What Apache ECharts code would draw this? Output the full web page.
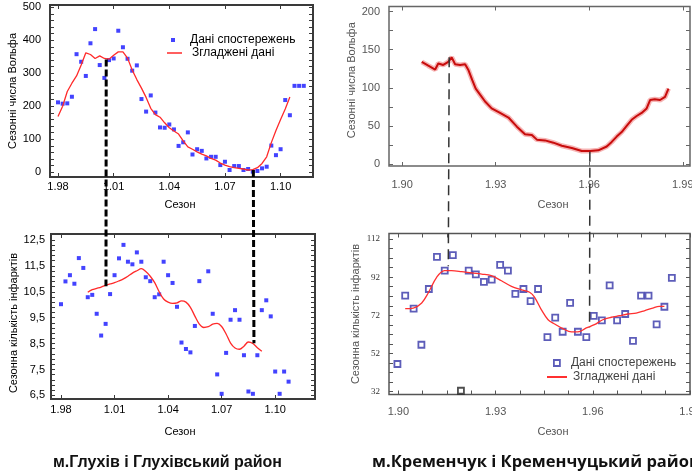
<!DOCTYPE html>
<html>
<head>
<meta charset="utf-8">
<script src="https://cdn.jsdelivr.net/npm/echarts@6/dist/echarts.min.js"></script>
<style>
html, body { margin: 0; padding: 0; background: #fff; }
#chart { width: 692px; height: 474px; }
</style>
</head>
<body>
<div id="chart"></div>
<script>
// м.Глухів: поквартальні дані, перше значення - 1998 рік
var gluStart = 1998;
var gluWolf = [212, 208, 209, 229, 358, 335, 292, 391, 434, 325, 286, 340, 345, 429, 379, 344,
	308, 324, 222, 184, 233, 181, 136, 135, 145, 130, 80, 91, 121, 54, 70, 65,
	42, 47, 47, 22, 32, 7, 19, 19, 7, 10, 2, 4, 12, 17, 81, 52, 70, 219, 173, 262, 262, 262];
var gluWolfSmooth = [169, 200, 245, 270, 292, 325, 362, 357, 345, 353, 345, 343, 355, 365, 365, 346,
	310, 281, 255, 227, 194, 175, 167, 150, 135, 125, 116, 95, 77, 70, 62, 55,
	50, 42, 37, 28, 22, 17, 14, 12, 10, 7, 8, 14, 27, 47, 90, 127, 160, 192, 228];
var gluInf = [10.02, 10.9, 11.14, 10.81, 11.8, 11.42, 10.29, 10.38, 9.65, 8.81, 9.26, 10.41,
	11.14, 11.79, 12.31, 11.66, 11.56, 12.02, 11.66, 11.06, 10.91, 10.29, 10.4, 11.66,
	11.14, 10.84, 9.92, 8.54, 8.29, 8.16, 9.18, 10.91, null, 11.29, 9.65, 7.31,
	6.56, 8.14, 9.42, 9.79, 9.42, 8.05, 6.65, 6.56, 8.05, 9.79, 10.17, 9.55, 7.42, 6.56, 7.42, 7.03];
var gluInfSmoothStart = 1999.5;
var gluInfSmooth = [10.48, 10.58, 10.63, 10.68, 10.75, 10.8, 10.85, 10.92, 11.0, 11.1, 11.22, 11.31,
	11.39, 11.28, 11.1, 10.85, 10.5, 10.22, 10.1, 10.05, 10.07, 10.15, 10.1, 9.9,
	9.56, 9.25, 9.12, 9.15, 9.25, 9.28, 9.16, 8.87, 8.52, 8.33, 8.28, 8.4, 8.56, 8.5, 8.34, 8.2];
var gluYears = [1998, 2001, 2004, 2007, 2010];
var gluWolfLabels = [0, 100, 200, 300, 400, 500];
var gluInfLabels = [6.5, 7.5, 8.5, 9.5, 10.5, 11.5, 12.5];

// м.Кременчук: [рік, значення]
var kremWolf = [[1990.63, 134], [1990.84, 129], [1991.06, 124], [1991.16, 132], [1991.32, 130], [1991.48, 134],
	[1991.59, 140], [1991.7, 131], [1991.86, 130], [1992.02, 131], [1992.13, 123], [1992.25, 110],
	[1992.36, 99], [1992.5, 91], [1992.66, 82], [1992.87, 73], [1993.14, 67], [1993.41, 61],
	[1993.68, 49], [1993.94, 39], [1994.16, 38], [1994.32, 32], [1994.58, 31], [1994.85, 28],
	[1995.12, 24], [1995.44, 21], [1995.76, 17], [1996.03, 17], [1996.29, 18], [1996.56, 23],
	[1996.72, 29], [1996.88, 36], [1997.04, 42], [1997.2, 50], [1997.36, 58], [1997.52, 63],
	[1997.68, 67], [1997.84, 73], [1997.95, 84], [1998.1, 85], [1998.27, 84], [1998.43, 88], [1998.54, 99]];
var kremInf = [[1989.97, 46.5], [1990.21, 82.3], [1990.47, 75.5], [1990.71, 56.6], [1990.94, 85.8], [1991.19, 102.6],
	[1991.43, 95.4], [1991.68, 103.6], [1991.93, 32.5], [1992.17, 95.4], [1992.39, 93.5], [1992.64, 89.5],
	[1992.88, 90.7], [1993.14, 98.4], [1993.38, 95.4], [1993.61, 83.3], [1993.86, 85.8], [1994.08, 79.4],
	[1994.31, 85.8], [1994.6, 60.6], [1994.84, 70.8], [1995.07, 63.4], [1995.3, 78.5], [1995.54, 63.4],
	[1995.8, 60.6], [1996.03, 71.7], [1996.28, 69.4], [1996.52, 87.7], [1996.75, 69.4], [1997.0, 72.7],
	[1997.24, 58.6], [1997.49, 82.3], [1997.72, 82.3], [1997.97, 67.3], [1998.21, 76.5], [1998.44, 91.6]];
var kremInfDark = [8];
var kremInfSmooth = [[1990.21, 75.5], [1990.46, 75.8], [1990.72, 78.5], [1990.92, 83.7], [1991.18, 91.9], [1991.42, 95.4],
	[1991.64, 95.4], [1991.95, 94.9], [1992.26, 94.2], [1992.57, 93.6], [1992.87, 92.8], [1993.18, 90.1],
	[1993.49, 87.2], [1993.8, 85.4], [1994.05, 84.1], [1994.2, 81.5], [1994.41, 75], [1994.62, 69.7],
	[1994.82, 67.5], [1995.08, 65], [1995.34, 63.3], [1995.54, 63.3], [1995.8, 65.4], [1996.05, 67.1],
	[1996.31, 69.7], [1996.57, 71], [1996.82, 71.8], [1997.08, 72.7], [1997.34, 73.2], [1997.59, 74.4],
	[1997.85, 75.8], [1998.05, 76.7], [1998.21, 76.7]];
var kremYears = [1990, 1993, 1996, 1999];
var kremWolfLabels = [0, 50, 100, 150, 200];
var kremInfLabels = [32, 52, 72, 92, 112];

// пунктирні лінії між панелями: [рік вгорі, значення вгорі, рік внизу, значення внизу]
var gluLinks = [[2000.6, 342, 2000.52, 10.71], [2008.53, 7, 2008.81, 8.51]];
var kremLinks = [[1991.51, 140, 1991.54, 97.7], [1996.02, 16, 1995.9, 65.4]];

var obsName = 'Дані спостережень';
var smoothName = 'Згладжені дані';

function quarters(start, values) {
	var out = [];
	for (var i = 0; i < values.length; i++) {
		if (values[i] !== null) out.push([start + i * 0.25, values[i]]);
	}
	return out;
}
function steps(from, to, step) {
	var out = [];
	for (var v = from; v <= to + 1e-9; v += step) out.push(+v.toFixed(2));
	return out;
}
function yearLabel(v) {
	return '1.' + String(Math.round(v)).slice(2);
}

var sans = 'Liberation Sans, Arial, sans-serif';

// панелі: сітка, межі осей, підписи
var panels = [{
	grid: { left: 50, top: 5, width: 263, height: 172 },
	x: [1997.569, 2011.747], y: [-14.2, 507],
	xLabels: gluYears, xTicks: gluYears, xMargin: 4,
	yLabels: gluWolfLabels, yTicks: steps(0, 500, 20), yMargin: 9,
	yFormat: null, frame: '#3a3a3a', frameW: 2, color: '#000', yFont: { fontSize: 11, fontFamily: sans },
	yName: 'Сезонні числа Вольфа', yNameGap: 31, yNamePad: [0, 0, 0, 0],
	xNameGap: 22, xNamePad: [0, 3, 0, 0]
}, {
	grid: { left: 51, top: 234, width: 264, height: 165 },
	x: [1997.44, 2012.23], y: [6.36, 12.73],
	xLabels: gluYears, xTicks: gluYears, xMargin: 5,
	yLabels: gluInfLabels, yTicks: steps(6.5, 12.5, 0.2), yMargin: 6,
	yFormat: function(v) { return v.toFixed(1).replace('.', ','); },
	frame: '#3a3a3a', frameW: 2, color: '#000', yFont: { fontSize: 11, fontFamily: sans },
	yName: 'Сезонна кількість інфарктів', yNameGap: 28, yNamePad: [0, 13, 0, 0],
	xNameGap: 27, xNamePad: [0, 6, 0, 0]
}, {
	grid: { left: 389, top: 6.5, width: 301, height: 159.5 },
	x: [1989.58, 1999.23], y: [-2.6, 206.7],
	xLabels: kremYears, xTicks: kremYears, xMargin: 13,
	yLabels: kremWolfLabels, yTicks: steps(0, 200, 25), yMargin: 9,
	yFormat: null, frame: '#666', frameW: 1.5, color: '#555', yFont: { fontSize: 11, fontFamily: sans },
	yName: 'Сезонні числа Вольфа', yNameGap: 30, yNamePad: [0, 0, 0, 12],
	xNameGap: 33, xNamePad: [0, 0, 0, 27]
}, {
	grid: { left: 389, top: 233.5, width: 301, height: 161 },
	x: [1989.71, 1999.0], y: [30.53, 114.88],
	xLabels: kremYears, xTicks: steps(1990, 1999, 0.75), xMargin: 12,
	yLabels: kremInfLabels, yTicks: steps(32, 112, 5), yMargin: 9,
	yFormat: null, frame: '#555', frameW: 1.5, color: '#555',
	yFont: { fontSize: 9, fontFamily: 'Liberation Serif, serif', color: '#333' },
	yName: 'Сезонна кількість інфарктів', yNameGap: 28, yNamePad: [0, 0, 0, 0],
	xNameGap: 32, xNamePad: [0, 0, 0, 27]
}];

var grids = [], xAxes = [], yAxes = [];
panels.forEach(function(p, i) {
	grids.push({ show: true, borderColor: p.frame, borderWidth: p.frameW, backgroundColor: 'transparent',
		outerBoundsMode: 'none', containLabel: false,
		left: p.grid.left, top: p.grid.top, width: p.grid.width, height: p.grid.height });
	var tick = { inside: true, length: 4, customValues: null, lineStyle: { color: p.frame, width: 1 } };
	var xTick = Object.assign({}, tick, { customValues: p.xTicks });
	var yTick = Object.assign({}, tick, { customValues: p.yTicks });
	xAxes.push({
		type: 'value', gridIndex: i, min: p.x[0], max: p.x[1], position: 'bottom',
		axisLine: { show: false, onZero: false }, splitLine: { show: false }, axisTick: xTick,
		axisLabel: { customValues: p.xLabels, formatter: yearLabel, margin: p.xMargin, color: p.color,
			fontSize: 11, fontFamily: sans, hideOverlap: false },
		name: 'Сезон', nameLocation: 'middle', nameGap: p.xNameGap,
		nameTextStyle: { color: p.color, fontSize: 11, fontFamily: sans, padding: p.xNamePad }
	}, {
		type: 'value', gridIndex: i, min: p.x[0], max: p.x[1], position: 'top',
		axisLine: { show: false, onZero: false }, splitLine: { show: false }, axisTick: xTick,
		axisLabel: { show: false }
	});
	yAxes.push({
		type: 'value', gridIndex: i, min: p.y[0], max: p.y[1], position: 'left',
		axisLine: { show: false, onZero: false }, splitLine: { show: false }, axisTick: yTick,
		axisLabel: Object.assign({ customValues: p.yLabels, margin: p.yMargin, color: p.color,
			formatter: p.yFormat || function(v) { return String(v); } }, p.yFont),
		name: p.yName, nameLocation: 'middle', nameGap: p.yNameGap,
		nameTextStyle: { color: p.color, fontSize: 11, fontFamily: sans, padding: p.yNamePad }
	}, {
		type: 'value', gridIndex: i, min: p.y[0], max: p.y[1], position: 'right',
		axisLine: { show: false, onZero: false }, splitLine: { show: false }, axisTick: yTick,
		axisLabel: { show: false }
	});
});

var kremInfData = kremInf.map(function(d, i) {
	if (kremInfDark.indexOf(i) >= 0) return { value: d, itemStyle: { borderColor: '#222' } };
	return d;
});

var chart = echarts.init(document.getElementById('chart'));
chart.setOption({
	animation: false,
	grid: grids,
	xAxis: xAxes,
	yAxis: yAxes,
	title: [{
		text: 'м.Глухів і Глухівський район', left: 53, top: 455, padding: 0,
		textStyle: { fontFamily: sans, fontWeight: 'bold', fontSize: 16, color: '#111' }
	}, {
		text: 'м.Кременчук і Кременчуцький район', left: 372, top: 454, padding: 0,
		textStyle: { fontFamily: 'Open Sans, Noto Sans, sans-serif', fontWeight: 'bold', fontSize: 16.5, color: '#111' }
	}],
	legend: [{
		data: [{ name: obsName, icon: 'rect', itemStyle: { color: '#1414ff' } }],
		left: 171, top: 34, itemWidth: 4, itemHeight: 4, selectedMode: false, padding: 0,
		textStyle: { fontFamily: sans, fontSize: 12, color: '#000', padding: [0, 0, 0, 10] }
	}, {
		data: [{ name: smoothName, icon: 'path://M0,0h20v2h-20z', itemStyle: { color: '#ff2a2a' } }],
		left: 167, top: 47, itemWidth: 15, itemHeight: 2, selectedMode: false, padding: 0,
		textStyle: { fontFamily: sans, fontSize: 12, color: '#000', padding: [0, 0, 0, 5] }
	}, {
		data: [{ name: obsName, icon: 'rect', itemStyle: { color: '#fff', borderColor: '#3535a8', borderWidth: 1.8 } }],
		left: 553, top: 357, itemWidth: 6, itemHeight: 6, selectedMode: false, padding: 0,
		textStyle: { fontFamily: sans, fontSize: 12, color: '#444', padding: [0, 0, 0, 6] }
	}, {
		data: [{ name: smoothName, icon: 'path://M0,0h20v2h-20z', itemStyle: { color: '#ff3030' } }],
		left: 547, top: 371, itemWidth: 20, itemHeight: 2, selectedMode: false, padding: 0,
		textStyle: { fontFamily: sans, fontSize: 12, color: '#444', padding: [0, 0, 0, 1] }
	}],
	series: [{
		name: obsName, type: 'scatter', xAxisIndex: 0, yAxisIndex: 0,
		symbol: 'rect', symbolSize: 4, itemStyle: { color: '#1414ff' },
		data: quarters(gluStart, gluWolf)
	}, {
		name: smoothName, type: 'line', xAxisIndex: 0, yAxisIndex: 0, symbol: 'none',
		lineStyle: { color: '#ff2a2a', width: 1.3 }, data: quarters(gluStart, gluWolfSmooth)
	}, {
		name: obsName, type: 'scatter', xAxisIndex: 2, yAxisIndex: 2,
		symbol: 'rect', symbolSize: 4, itemStyle: { color: '#1414ff' },
		data: quarters(gluStart, gluInf)
	}, {
		name: smoothName, type: 'line', xAxisIndex: 2, yAxisIndex: 2, symbol: 'none', smooth: 0.35,
		lineStyle: { color: '#ff2a2a', width: 1.3 }, data: quarters(gluInfSmoothStart, gluInfSmooth)
	}, {
		name: 'Вольф', type: 'line', xAxisIndex: 4, yAxisIndex: 4, symbol: 'none',
		lineStyle: { color: 'rgba(235,90,90,0.45)', width: 5 }, data: kremWolf
	}, {
		name: 'Вольф', type: 'line', xAxisIndex: 4, yAxisIndex: 4, symbol: 'none',
		lineStyle: { color: '#c80c0c', width: 2 }, data: kremWolf
	}, {
		name: obsName, type: 'scatter', xAxisIndex: 6, yAxisIndex: 6,
		symbol: 'rect', symbolSize: 6,
		itemStyle: { color: '#fff', borderColor: '#3535a8', borderWidth: 1.8 },
		data: kremInfData
	}, {
		name: smoothName, type: 'line', xAxisIndex: 6, yAxisIndex: 6, symbol: 'none', smooth: 0.35,
		lineStyle: { color: '#ff3030', width: 1.3 }, data: kremInfSmooth
	}]
});

// пунктирні лінії через обидві панелі
var links = [];
function addLinks(list, top, bottom, style) {
	list.forEach(function(l) {
		var a = chart.convertToPixel({ xAxisIndex: top, yAxisIndex: top }, [l[0], l[1]]);
		var b = chart.convertToPixel({ xAxisIndex: bottom, yAxisIndex: bottom }, [l[2], l[3]]);
		links.push({ type: 'line', z: 20, shape: { x1: a[0], y1: a[1], x2: b[0], y2: b[1] }, style: style });
	});
}
addLinks(gluLinks, 0, 2, { stroke: '#000', lineWidth: 3, lineDash: [7, 3] });
addLinks(kremLinks, 4, 6, { stroke: '#333', lineWidth: 1.5, lineDash: [10, 6] });
chart.setOption({ graphic: links });
</script>
</body>
</html>
